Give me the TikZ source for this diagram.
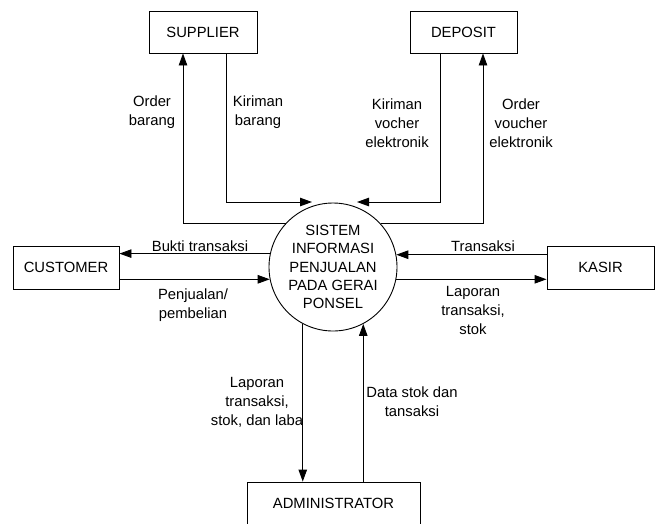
\documentclass[tikz,border=0pt]{standalone}
\usepackage{fontspec}
\setmainfont{Liberation Sans}
\usetikzlibrary{arrows.meta}
\begin{document}
\begin{tikzpicture}[x=1pt,y=-1pt,
  every node/.style={font=\fontsize{14.8}{19}\selectfont},
  ent/.style={draw, line width=0.9pt, inner sep=0pt},
  lbl/.style={align=center, inner sep=0pt},
  arr/.style={line width=0.9pt, -{Triangle[length=12pt,width=8.5pt]}},
  ln/.style={line width=0.9pt}]
\useasboundingbox (0,0) rectangle (656,523);
\clip (0,0) rectangle (656,523);
\node[ent, minimum width=108, minimum height=42] (sup) at (203,32) {SUPPLIER};
\node[ent, minimum width=107, minimum height=42] (dep) at (463.5,32) {DEPOSIT};
\node[ent, minimum width=106, minimum height=43] (cust) at (66,267.5) {CUSTOMER};
\node[ent, minimum width=107, minimum height=43] (kasir) at (600.5,267.5) {KASIR};
\node[ent, minimum width=173, minimum height=42] (admin) at (333.5,503) {ADMINISTRATOR};
\node[draw, circle, line width=0.9pt, minimum size=128, inner sep=0pt, align=center,
  font=\fontsize{14.8}{18.3}\selectfont] (sys) at (333,267)
  {SISTEM\\INFORMASI\\PENJUALAN\\PADA GERAI\\PONSEL};
\coordinate (t1) at (312,202);
\coordinate (t2) at (357,202);
% connectors
\draw[arr] (sys.137.8) -| ([xshift=-20]sup.south);
\draw[arr] ([xshift=23]sup.south) |- (t1);
\draw[arr] ([xshift=-23.5]dep.south) |- (t2);
\draw[arr] (sys.42.2) -| ([xshift=19.5]dep.south);
\draw[arr] (sys.168.3) -- (sys.168.3 -| cust.east);
\draw[arr] (cust.east |- sys.191.7) -- (sys.191.7);
\draw[arr] (kasir.west |- sys.11.7) -- (sys.11.7);
\draw[arr] (sys.-11.7) -- (sys.-11.7 -| kasir.west);
\draw[arr] (sys.242) -- (sys.242 |- admin.north);
\draw[arr] (admin.north -| sys.298) -- (sys.298);
% labels
\node[lbl] (l1) at (152,112) {Order\\barang};
\node[lbl] (l2) at (258,112) {Kiriman\\barang};
\node[lbl] (l3) at (397,123) {Kiriman\\vocher\\elektronik};
\node[lbl] (l4) at (521,123) {Order\\voucher\\elektronik};
\node[lbl] (l5) at (200,246) {Bukti transaksi};
\node[lbl] (l6) at (193,305) {Penjualan/\\pembelian};
\node[lbl] (l7) at (483,246) {Transaksi};
\node[lbl] (l8) at (473,310) {Laporan\\transaksi,\\stok};
\node[lbl] (l9) at (257,402) {Laporan\\transaksi,\\stok, dan laba};
\node[lbl] (l10) at (412,402) {Data stok dan\\tansaksi};
\end{tikzpicture}
\end{document}
